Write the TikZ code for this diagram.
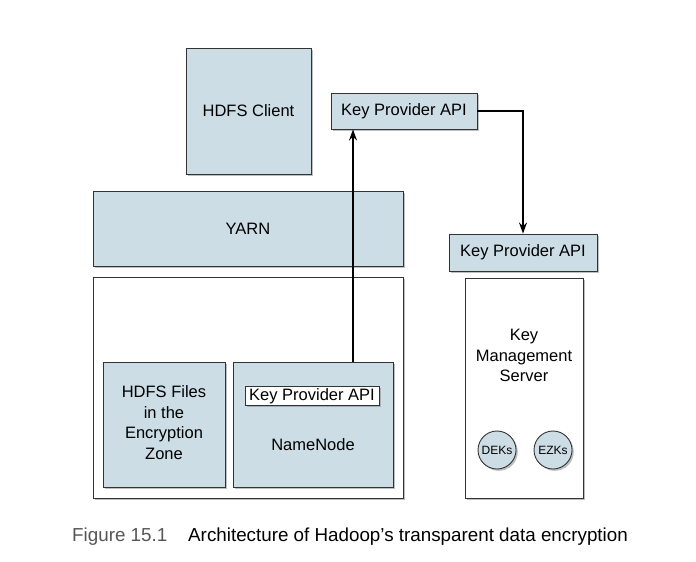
\documentclass[tikz,border=0pt]{standalone}
\usepackage{fontspec}
\setmainfont{Liberation Sans}
\usetikzlibrary{arrows.meta,shadows,positioning}
\definecolor{boxblue}{RGB}{204,221,229}
\definecolor{capgray}{RGB}{85,85,85}

\begin{document}
\begin{tikzpicture}[x=1pt,y=-1pt,
  txt/.style={inner sep=0pt,font=\fontsize{16.5}{20.5}\selectfont},
  box/.style={rectangle,draw=black!80,line width=0.9pt,fill=boxblue,drop shadow={shadow xshift=1.8pt,shadow yshift=-1.8pt,opacity=0.5},txt},
  whitebox/.style={box,fill=white},
  keyset/.style={box,circle,minimum size=38pt,font=\fontsize{12}{14}\selectfont},
  link/.style={-{Stealth[length=11pt,width=8pt]},line width=1.4pt},
  figcaption/.style={anchor=base west,inner sep=0pt,font=\fontsize{18.8}{22}\selectfont}]
\useasboundingbox (0,0) rectangle (696,562);

% left stack
\node [box,minimum width=125pt,minimum height=126pt] (client) at (248.5,111) {HDFS Client};
\node [box,minimum width=146pt,minimum height=36pt] (kpa) at (404,111) {Key Provider API};
\node [box,minimum width=310pt,minimum height=75pt] (yarn) at (248,228.5) {YARN};
\node [whitebox,minimum width=310pt,minimum height=221pt] (hdfs) at (248,388) {};
\node [box,minimum width=122pt,minimum height=125pt] (files) at (164,424.5) {\begin{tabular}{c}HDFS Files\\in the\\Encryption\\Zone\end{tabular}};
\node [box,minimum width=160pt,minimum height=125pt] (namenode) at (313,424.5) {};
\node [whitebox,minimum width=134pt,minimum height=19pt] (nnkpa) at (312,396) {Key Provider API};
\node [txt] (nnlabel) at (313,445) {NameNode};

% key management server
\node [box,minimum width=148pt,minimum height=37pt] (kmskpa) at (523,252.5) {Key Provider API};
\node [whitebox,minimum width=118pt,minimum height=220pt] (kms) at (524,388) {};
\node [txt] (kmslabel) at (524,357) {\begin{tabular}{c}Key\\Management\\Server\end{tabular}};
\node [keyset] (deks) at (497,450) {DEKs};
\node [keyset] (ezks) at (553,450) {EZKs};

\coordinate (up) at (353,0);
\draw [link] (namenode.north -| up) -- (kpa.south -| up);
\draw [link] (kpa.east) -| (kmskpa.north);

\node [figcaption,text=capgray] (fignum) at (72,541) {Figure 15.1};
\node [figcaption] (caption) at (188,541) {Architecture of Hadoop’s transparent data encryption};
\end{tikzpicture}
\end{document}
